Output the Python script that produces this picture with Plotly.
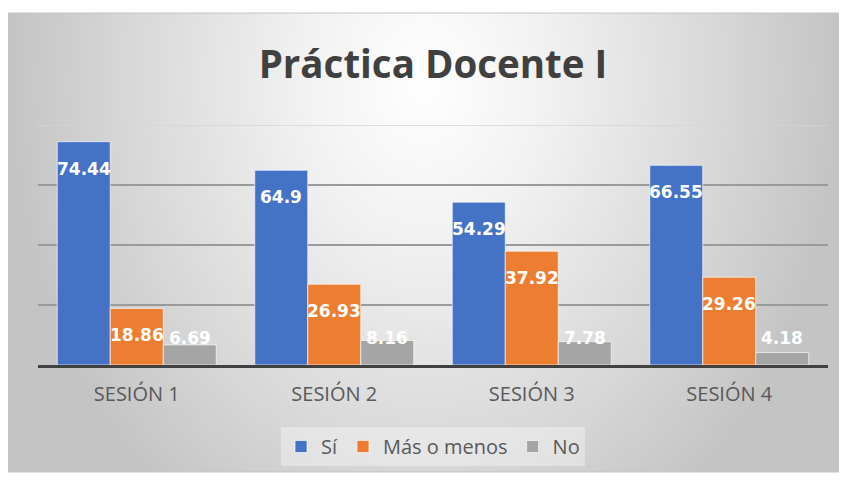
import plotly.graph_objects as go

categories = ["SESIÓN 1", "SESIÓN 2", "SESIÓN 3", "SESIÓN 4"]
series_names = ["Sí", "Más o menos", "No"]
si_values = [74.44, 64.9, 54.29, 66.55]
mas_o_menos_values = [18.86, 26.93, 37.92, 29.26]
no_values = [6.69, 8.16, 7.78, 4.18]
colors = ["#4472C4", "#ED7D31", "#A5A5A5"]
title_text = "Práctica Docente I"

OFF = 8  # page body margin of the html page
W, H = 847 - OFF, 480 - OFF
# chart region (page pixels) -> figure pixels
cl, cr, ct, cb = 8 - OFF, 840 - OFF, 13 - OFF, 472 - OFF
ML, MR, MT, MB = cl, W - cr, ct, H - cb
pw = W - ML - MR
ph = H - MT - MB
# bar plot area (page pixels -> figure)
px0, px1 = 38 - OFF, 828 - OFF
py_top, py_base = 125 - OFF, 365 - OFF
xdom = [(px0 - ML) / pw, (px1 - ML) / pw]
ydom = [(H - MB - py_base) / ph, (H - MB - py_top) / ph]
xc = (px0 + px1) / 2

bargap = 0.195
xs = list(range(len(categories)))

fig = go.Figure()

# background radial gradient on primary axes (full chart area)
fig.add_trace(go.Scatter(
    x=[0, 1, 1, 0, 0], y=[-0.3, -0.3, 2.0, 2.0, -0.3],
    mode="lines", fill="toself", line=dict(width=0),
    fillgradient=dict(type="radial",
                      colorscale=[[0, "#ffffff"], [0.3, "#f1f1f1"], [0.72, "#d7d7d7"], [1, "#c4c4c4"]]),
    hoverinfo="skip", showlegend=False,
    xaxis="x", yaxis="y"))

all_vals = [si_values, mas_o_menos_values, no_values]
for name, vals, col in zip(series_names, all_vals, colors):
    fig.add_trace(go.Bar(
        x=xs, y=vals, name=name, xaxis="x2", yaxis="y2",
        marker=dict(color=col, line=dict(color="rgba(255,255,255,0.65)", width=1)),
        hoverinfo="skip"))

# data labels
slot = (1 - bargap) / 3
lab_off = 9  # data units below bar top
for k, vals in enumerate(all_vals):
    for i, v in enumerate(vals):
        fig.add_annotation(
            x=i + (k - 1) * slot, y=max(v - lab_off, lab_off), xref="x2", yref="y2",
            text=f"{v:g}", showarrow=False, xanchor="center", yanchor="middle",
            font=dict(family="DejaVu Sans", size=17, color="white", weight="bold"))

# faint top gridline
fig.add_shape(type="line", xref="x2 domain", yref="y2", x0=0, x1=1, y0=80, y1=80,
              line=dict(color="#d4d4d4", width=1.5), layer="above")
# chart border
fig.add_shape(type="rect", xref="paper", yref="paper", x0=0, x1=1, y0=0, y1=1,
              line=dict(color="#c4c4c4", width=1))

fig.update_layout(
    width=W, height=H,
    margin=dict(l=ML, r=MR, t=MT, b=MB, pad=0, autoexpand=False),
    paper_bgcolor="white", plot_bgcolor="rgba(0,0,0,0)",
    barmode="group", bargap=bargap, bargroupgap=0,
    title=dict(text=title_text, xref="container", x=xc / W, xanchor="center",
               yref="container", y=1 - (65 - OFF) / H, yanchor="middle",
               font=dict(family="Open Sans", size=38.5, color="#404040", weight="bold")),
    xaxis=dict(domain=[0, 1], range=[0, 1], visible=False, fixedrange=True),
    yaxis=dict(domain=[0, 1], range=[0, 1], visible=False, fixedrange=True),
    xaxis2=dict(domain=xdom, anchor="y2", range=[-0.5, 3.5], tickvals=xs, ticktext=categories,
                showgrid=False, zeroline=False, showline=True, linecolor="#404040", linewidth=3,
                ticks="", ticklabelstandoff=9,
                tickfont=dict(family="Open Sans", size=20, color="#595959")),
    yaxis2=dict(domain=ydom, anchor="x2", range=[0, 80], tickvals=[20, 40, 60],
                showticklabels=False, showgrid=True, gridcolor="#9a9a9a", gridwidth=1.5,
                zeroline=False, showline=False),
    legend=dict(orientation="h", xref="paper", x=(xc - ML) / pw, xanchor="center",
                yref="paper", y=(H - MB - (427 - OFF)) / ph, yanchor="top",
                bgcolor="rgba(255,255,255,0.35)",
                font=dict(family="Open Sans", size=20, color="#595959"),
                itemwidth=30, traceorder="normal"),
    showlegend=True,
)

fig.write_html("out.html")
